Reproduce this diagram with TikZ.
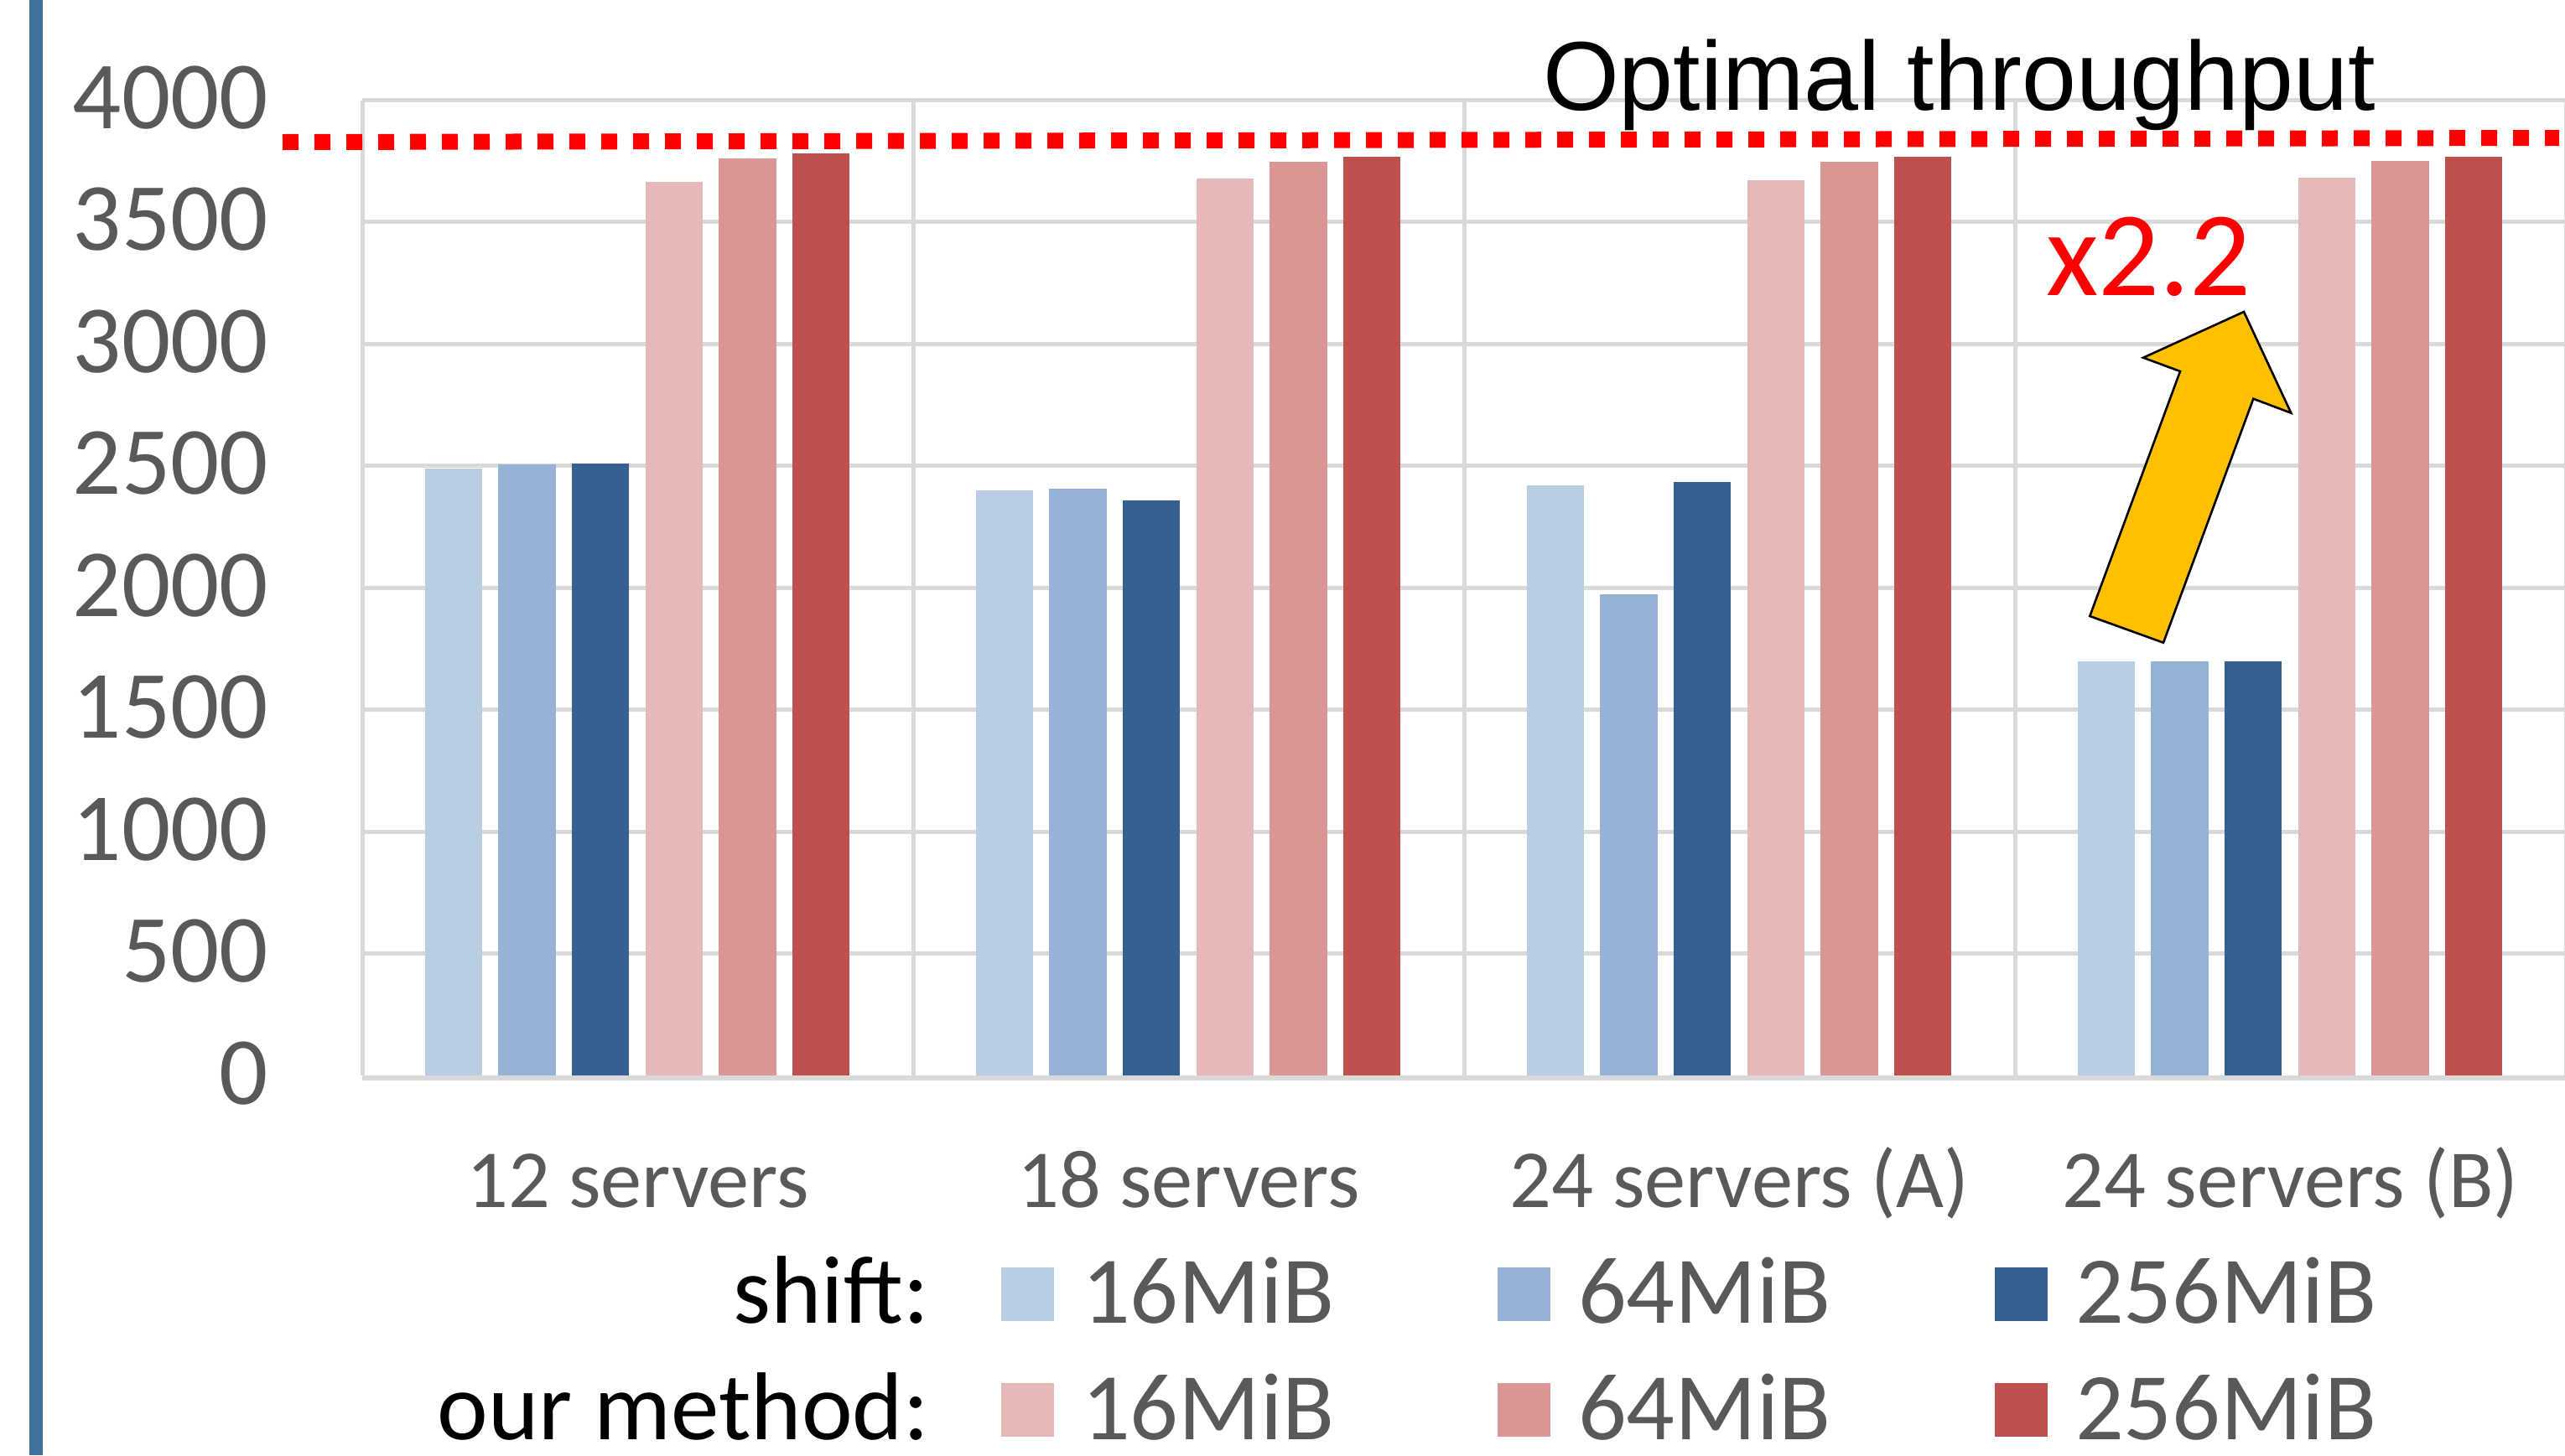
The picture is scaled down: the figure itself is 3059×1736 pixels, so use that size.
\documentclass[tikz,border=0pt]{standalone}
\usepackage{fontspec}
\setmainfont{Carlito}
\newfontfamily\arialf{Liberation Sans}
\definecolor{gridgray}{HTML}{D9D9D9}
\definecolor{txtgray}{HTML}{595959}
\definecolor{leftblue}{RGB}{65,113,156}
\definecolor{bA}{HTML}{B9CDE5}
\definecolor{bB}{HTML}{95B3D7}
\definecolor{bC}{HTML}{376092}
\definecolor{rA}{HTML}{E6B9B8}
\definecolor{rB}{HTML}{D99694}
\definecolor{rC}{HTML}{C0504D}
\definecolor{arrowyellow}{HTML}{FFC000}
\definecolor{optred}{HTML}{FF0000}
\begin{document}
\begin{tikzpicture}[x=0.25pt,y=-0.25pt,
  every node/.style={inner sep=0pt, outer sep=0pt},
  gridline/.style={draw=gridgray, line width=1.25pt},
  ticklabel/.style={anchor=base east, text=txtgray, font=\fontsize{28.75pt}{34pt}\selectfont},
  catlabel/.style={anchor=base, text=txtgray, font=\fontsize{24.6pt}{30pt}\selectfont},
  legtext/.style={anchor=base west, text=txtgray, text depth=0pt, font=\fontsize{28.5pt}{34pt}\selectfont},
  leghead/.style={anchor=base east, text=black, text depth=0pt, font=\fontsize{28.75pt}{34pt}\selectfont},
  swatch/.style={minimum width=15.75pt, minimum height=16pt, anchor=north west}
]
\useasboundingbox (0,0) rectangle (3059,1736);
\fill[white] (0,0) rectangle (3059,1736);

% left blue rule
\fill[leftblue] (35,0) rectangle (51,1736);

% horizontal gridlines
\foreach \v in {500,1000,...,4000}{
  \draw[gridline] (432,{1283-\v*0.29088}) -- (3062,{1283-\v*0.29088});
}
% vertical gridlines
\foreach \g in {0,1,2,3,4}{
  \draw[gridline] ({432+657*\g},119.5) -- ({432+657*\g},1283);
}

% bars
\foreach \g/\a/\b/\c/\d/\e/\f in {0/559/554/553/216.5/189/183,
                                   1/585/583/597/213/193/187,
                                   2/579/709/575/215/193/187,
                                   3/789/789/789/212/192/187}{
  \pgfmathsetmacro\gx{432+657*\g+74.5}
  \fill[bA] (\gx,\a) rectangle ({\gx+68.5},1283);
  \fill[bB] ({\gx+87.67},\b) rectangle ({\gx+87.67+68.5},1283);
  \fill[bC] ({\gx+2*87.67},\c) rectangle ({\gx+2*87.67+68.5},1283);
  \fill[rA] ({\gx+3*87.67},\d) rectangle ({\gx+3*87.67+68.5},1283);
  \fill[rB] ({\gx+4*87.67},\e) rectangle ({\gx+4*87.67+68.5},1283);
  \fill[rC] ({\gx+5*87.67},\f) rectangle ({\gx+5*87.67+68.5},1283);
}

% category axis line
\draw[draw=gridgray, line width=1.5pt] (432,1286) -- (3062,1286);

% value axis labels
\foreach \v in {0,500,...,4000}{
  \node[ticklabel] (tick\v) at (320,{1283-\v*0.29088+34}) {\v};
}

% category labels
\node[catlabel] (cat1) at (760.5,1440) {12 servers};
\node[catlabel] (cat2) at (1417.5,1440) {18 servers};
\node[catlabel] (cat3) at (2074.5,1440) {24 servers (A)};
\node[catlabel] (cat4) at (2731.5,1440) {24 servers (B)};

% optimal throughput line
\draw[optred, line width=4.75pt, dash pattern=on 4.75pt off 4.75pt, line cap=butt]
  (337,169.5) -- (3052,164.5);
\node[anchor=base west, font=\arialf\fontsize{29.2pt}{34pt}\selectfont] (opt) at (1840,131) {Optimal throughput};

% improvement arrow
\draw[fill=arrowyellow, draw=black, line width=0.65pt, line join=miter]
  (2676,372) -- (2732.3,492.7) -- (2687.3,475.7) -- (2580,766.7)
  -- (2492.3,735) -- (2600,443) -- (2556,426.7) -- cycle;
\node[anchor=base west, text=optred, font=\fontsize{36pt}{40pt}\selectfont] (gain) at (2440,352) {x2.2};

% legend
\node[leghead] (lshift) at (1108,1578) {shift:};
\node[leghead] (lours) at (1108,1717) {our method:};
\node[swatch, fill=bA] (s1) at (1194,1512) {};
\node[swatch, fill=bB] (s2) at (1786,1512) {};
\node[swatch, fill=bC] (s3) at (2379,1512) {};
\node[swatch, fill=rA] (o1) at (1194,1650) {};
\node[swatch, fill=rB] (o2) at (1786,1650) {};
\node[swatch, fill=rC] (o3) at (2379,1650) {};
\node[legtext] (ts1) at (1290,1578) {16MiB};
\node[legtext] (ts2) at (1882,1578) {64MiB};
\node[legtext] (ts3) at (2475,1578) {256MiB};
\node[legtext] (to1) at (1290,1717) {16MiB};
\node[legtext] (to2) at (1882,1717) {64MiB};
\node[legtext] (to3) at (2475,1717) {256MiB};
\end{tikzpicture}
\end{document}
